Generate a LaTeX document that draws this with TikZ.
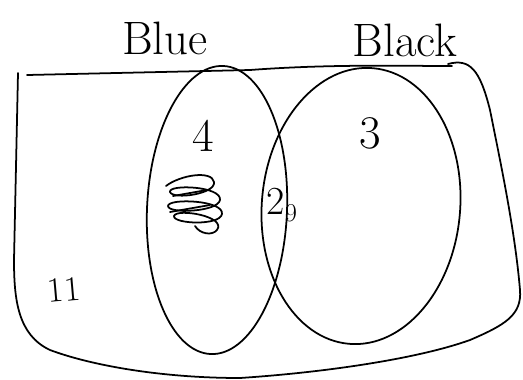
\documentclass[tikz,border=0pt]{standalone}
\usepackage{fontspec}
\usetikzlibrary{shapes.geometric}

\begin{document}
\begin{tikzpicture}[x=0.03cm,y=-0.03cm, line width=1.5pt, line cap=round, line join=round,
every node/.style={font=\fontsize{40}{40}\selectfont},
set/.style={draw,ellipse,inner sep=0pt},
count/.style={inner sep=1pt}]
\useasboundingbox (0,0) rectangle (523,379);
% universe
\draw (27,75) -- (250,70) .. controls (330,64) and (400,66) .. (452,66);
\draw (448,64) .. controls (470,58) and (480,70) .. (490,110)
  .. controls (500,160) and (515,230) .. (520,290)
  .. controls (522,315) and (505,325) .. (470,340)
  .. controls (420,358) and (330,372) .. (240,378)
  .. controls (160,378) and (90,365) .. (50,350)
  .. controls (18,335) and (14,300) .. (14,260) -- (18,73);
% the two sets
\node[set,minimum width=4.2cm,minimum height=8.65cm,rotate=-2.5] (blue) at (217,210) {};
\node[set,minimum width=5.95cm,minimum height=8.3cm,rotate=-5] (black) at (361,206) {};
\node (bluelbl) at (165,38) {Blue};
\node (blacklbl) at (405,40) {Black};
% counts
\node[count] (onlyblue) at (203,136) {4};
\node[count] (onlyblack) at (370,133) {3};
\node[count,font=\fontsize{34}{34}\selectfont] (both) at (282,205) {2\raisebox{-6pt}{\fontsize{22}{22}\selectfont 9}};
\node[count,font=\fontsize{30}{30}\selectfont,rotate=5] (neither) at (64,290) {11};
% crossed out
\draw (166,186) .. controls (180,175) and (212,170) .. (214,182)
  .. controls (216,194) and (173,200) .. (170,192)
  .. controls (168,184) and (222,186) .. (220,200)
  .. controls (218,212) and (168,214) .. (168,206)
  .. controls (168,198) and (224,200) .. (222,214)
  .. controls (220,226) and (173,224) .. (174,216)
  .. controls (176,208) and (227,216) .. (217,230)
  .. controls (212,236) and (200,234) .. (195,226);
\draw (173,196) -- (207,190) (170,212) -- (210,205);
\end{tikzpicture}
\end{document}
